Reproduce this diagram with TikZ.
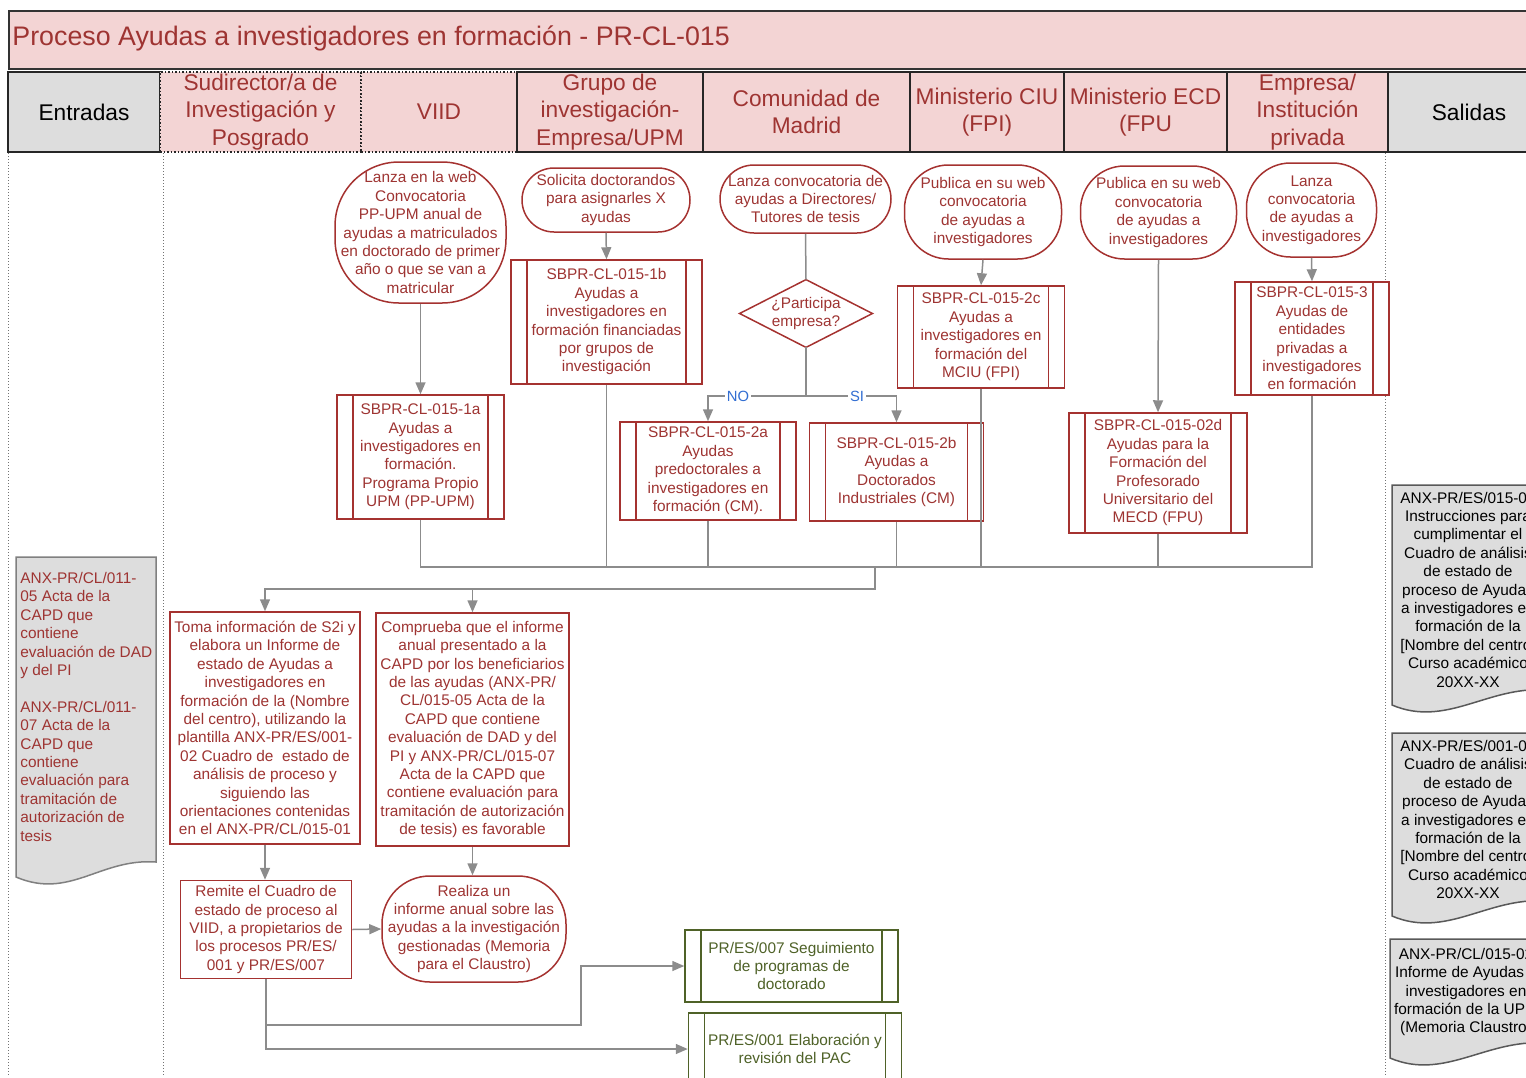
\documentclass[tikz,border=0pt]{standalone}
\usepackage{fontspec}
\setmainfont{Liberation Sans}
\usetikzlibrary{arrows.meta,calc}
\definecolor{redtxt}{RGB}{158,52,50}
\definecolor{redln}{RGB}{165,50,48}
\definecolor{pinkbg}{RGB}{243,212,212}
\definecolor{graybg}{RGB}{221,221,221}
\definecolor{conncol}{RGB}{140,140,140}
\definecolor{greenln}{RGB}{79,98,40}
\definecolor{bluetxt}{RGB}{50,110,210}
\newcommand\fsnode{\fontsize{7.7}{9.2}\selectfont}
\newcommand\fshead{\fontsize{11.35}{13.75}\selectfont}
\newcommand\fstitle{\fontsize{13.4}{16}\selectfont}
\tikzset{
  sz/.style 2 args={minimum width=#1*0.5pt, minimum height=#2*0.5pt},
  base/.style={inner sep=0pt, align=center, font=\fsnode, text=redtxt},
  procbox/.style={base, draw=#1, line width=0.75pt, fill=white,
    path picture={\draw[#1, line width=0.75pt]
      ([xshift=8pt]path picture bounding box.north west) -- ([xshift=8pt]path picture bounding box.south west)
      ([xshift=-8pt]path picture bounding box.north east) -- ([xshift=-8pt]path picture bounding box.south east);}},
  procbox/.default=redln,
  greenbox/.style={procbox=greenln, text=greenln},
  term/.style={base, draw=redln, line width=0.75pt, fill=white, rounded corners=#1},
  term/.default=22pt,
  actbox/.style={base, draw=redln, line width=0.75pt, fill=white},
  headcell/.style={draw=black!85, line width=0.75pt, fill=pinkbg, text=redtxt, font=\fshead, align=center, inner sep=0pt},
  conn/.style={draw=conncol, line width=0.75pt},
  arr/.style={conn, -{Triangle[width=5pt,length=6pt]}},
  lblbl/.style={inner sep=1pt, fill=white, text=bluetxt, font=\fontsize{7.4}{9}\selectfont},
  laneline/.style={draw=black!55, line width=0.5pt, densely dotted},
  docin/.style={draw=black!50, line width=0.75pt, fill=graybg},
  docout/.style={draw=black!65, line width=0.75pt, fill=graybg},
}
\begin{document}
\begin{tikzpicture}[x=0.5pt,y=-0.5pt]
\useasboundingbox (0,0) rectangle (1526,1077);
% title
\node[draw=black!80, line width=0.75pt, fill=pinkbg, sz={1540}{58}, anchor=north west, inner sep=0pt] (title) at (8,10) {};
\node[anchor=west, inner sep=0pt, font=\fstitle, text=redtxt] (titletxt) at (12,38) {Proceso Ayudas a investigadores en formación - PR-CL-015};
% header
\node[headcell, fill=graybg, text=black, sz={152}{80}] (hEntr) at (84,112) {Entradas};
\node[headcell, densely dotted, line width=0.6pt, sz={201}{80}] (hSub) at (260.5,112) {Sudirector/a de\\Investigación y\\Posgrado};
\node[headcell, densely dotted, line width=0.6pt, sz={156}{80}] (hVIID) at (439,112) {VIID};
\node[headcell, sz={186}{80}] (hGrupo) at (610,112) {Grupo de\\investigación-\\Empresa/UPM};
\node[headcell, sz={207}{80}] (hCM) at (806.5,112) {Comunidad de\\Madrid};
\node[headcell, sz={154}{80}] (hCIU) at (987,112) {Ministerio CIU\\(FPI)};
\node[headcell, sz={163}{80}] (hECD) at (1145.5,112) {Ministerio ECD\\(FPU};
\node[headcell, sz={161}{80}] (hEmp) at (1307.5,112) {Empresa/\\Institución\\privada};
\node[headcell, fill=graybg, text=black, sz={162}{80}] (hSal) at (1469,112) {Salidas};
% lane lines
\draw[laneline] (8,153) -- (8,1077);
\draw[laneline] (163,153) -- (163,1077);
\draw[laneline] (1385,153) -- (1385,1077);
% entradas document
\draw[docin] (16,557) -- (156,557) -- (156,862) .. controls (100,858) and (70,900) .. (16,877) -- cycle;
\node[base, align=left, anchor=north west] (inA) at (20,572) {ANX-PR/CL/011-\\05 Acta de la\\CAPD que\\contiene\\evaluación de DAD\\y del PI\\[9.2pt]ANX-PR/CL/011-\\07 Acta de la\\CAPD que\\contiene\\evaluación para\\tramitación de\\autorización de\\tesis};
% salidas documents
\draw[docout] (1392,485) -- (1545,485) -- (1545,690) .. controls (1488,686) and (1446,728) .. (1392,705) -- cycle;
\node[base, text=black] (out1) at (1468,589.5) {ANX-PR/ES/015-01\\Instrucciones para\\cumplimentar el\\Cuadro de análisis\\de estado de\\proceso de Ayudas\\a investigadores en\\formación de la\\{[}Nombre del centro{]}\\Curso académico\\20XX-XX};
\draw[docout] (1392,733) -- (1545,733) -- (1545,901) .. controls (1488,897) and (1446,939) .. (1392,916) -- cycle;
\node[base, text=black] (out2) at (1468,819.5) {ANX-PR/ES/001-02\\Cuadro de análisis\\de estado de\\proceso de Ayudas\\a investigadores en\\formación de la\\{[}Nombre del centro{]}\\Curso académico\\20XX-XX};
\draw[docout] (1390,939) -- (1545,939) -- (1545,1043) .. controls (1486,1039) and (1444,1081) .. (1390,1058) -- cycle;
\node[base, text=black] (out3) at (1466,992) {ANX-PR/CL/015-02\\Informe de Ayudas a\\investigadores en\\formación de la UPM\\(Memoria Claustro)};
% nodes
\node[term=32pt, sz={171}{141}] (n1) at (420.5,232.5) {Lanza en la web\\Convocatoria\\PP-UPM anual de\\ayudas a matriculados\\en doctorado de primer\\año o que se van a\\matricular};
\node[procbox, sz={167}{124}] (n1a) at (420.5,457) {SBPR-CL-015-1a\\Ayudas a\\investigadores en\\formación.\\Programa Propio\\UPM (PP-UPM)};
\node[term=16pt, sz={168}{64}] (n2) at (606,200) {Solicita doctorandos\\para asignarles X\\ayudas};
\node[procbox, sz={191}{124}] (n1b) at (606.5,322) {SBPR-CL-015-1b\\Ayudas a\\investigadores en\\formación financiadas\\por grupos de\\investigación};
\node[term=17pt, sz={171}{68}] (n3) at (805.5,199) {Lanza convocatoria de\\ayudas a Directores/\\Tutores de tesis};
\node[base, sz={132}{67}] (dia) at (806,313.5) {¿Participa\\empresa?};
\draw[draw=redln, line width=0.75pt] (dia.north) -- (dia.east) -- (dia.south) -- (dia.west) -- cycle;
\node[procbox, sz={176}{98}] (n2a) at (708,471) {SBPR-CL-015-2a\\Ayudas\\predoctorales a\\investigadores en\\formación (CM).};
\node[procbox, sz={174}{98}] (n2b) at (896.5,472) {SBPR-CL-015-2b\\Ayudas a\\Doctorados\\Industriales (CM)};
\node[term, sz={157}{94}] (n4) at (983,212) {Publica en su web\\convocatoria\\de ayudas a\\investigadores};
\node[procbox, sz={167}{102}] (n2c) at (981,337) {SBPR-CL-015-2c\\Ayudas a\\investigadores en\\formación del\\MCIU (FPI)};
\node[term, sz={156}{93}] (n5) at (1158.5,212.5) {Publica en su web\\convocatoria\\de ayudas a\\investigadores};
\node[procbox, sz={178}{120}] (n2d) at (1158,473) {SBPR-CL-015-02d\\Ayudas para la\\Formación del\\Profesorado\\Universitario del\\MECD (FPU)};
\node[term, sz={130}{94}] (n6) at (1311.5,210) {Lanza\\convocatoria\\de ayudas a\\investigadores};
\node[procbox, sz={154}{113}] (n3p) at (1312,338.5) {SBPR-CL-015-3\\Ayudas de\\entidades\\privadas a\\investigadores\\en formación};
\node[actbox, sz={190}{232}] (toma) at (265,728) {Toma información de S2i y\\elabora un Informe de\\estado de Ayudas a\\investigadores en\\formación de la (Nombre\\del centro), utilizando la\\plantilla ANX-PR/ES/001-\\02 Cuadro de\ \ estado de\\análisis de proceso y\\siguiendo las\\orientaciones contenidas\\en el ANX-PR/CL/015-01};
\node[actbox, sz={193}{233}] (comp) at (472.5,729.5) {Comprueba que el informe\\anual presentado a la\\CAPD por los beneficiarios\\de las ayudas (ANX-PR/\\CL/015-05 Acta de la\\CAPD que contiene\\evaluación de DAD y del\\PI y ANX-PR/CL/015-07\\Acta de la CAPD que\\contiene evaluación para\\tramitación de autorización\\de tesis) es favorable};
\node[actbox, sz={171}{98}] (remite) at (266,929.5) {Remite el Cuadro de\\estado de proceso al\\VIID, a propietarios de\\los procesos PR/ES/\\001 y PR/ES/007};
\node[term=24pt, sz={184}{106}] (realiza) at (474,929) {Realiza un\\informe anual sobre las\\ayudas a la investigación\\gestionadas (Memoria\\para el Claustro)};
\node[greenbox, sz={213}{72}] (g1) at (791.5,966) {PR/ES/007 Seguimiento\\de programas de\\doctorado};
\node[greenbox, sz={213}{72}] (g2) at (795,1049) {PR/ES/001 Elaboración y\\revisión del PAC};
% connectors
\draw[arr] (n1.south) -- (n1a.north);
\draw[arr] (n2.south) -- (n1b.north);
\draw[conn] (n3.south) -- (dia.north);
\coordinate (sp) at (806,396);
\draw[arr] (dia.south) -- (sp) -| (n2a.north);
\draw[arr] (sp) -| (n2b.north);
\node[lblbl] (lno) at (738,396) {NO};
\node[lblbl] (lsi) at (857,396) {SI};
\draw[arr] (n4.south) -- (n2c.north);
\draw[arr] (n5.south) -- (n2d.north);
\draw[arr] (n6.south) -- (n3p.north);
\coordinate (mR) at (1312,567);
\coordinate (mJ) at (875,567);
\coordinate (bL) at (265,589);
\draw[conn] (n1a.south) |- (mR) -- (n3p.south);
\draw[conn] (n1b.south) -- (n1b.south |- mR);
\draw[conn] (n2a.south) -- (n2a.south |- mR);
\draw[conn] (n2b.south) -- (n2b.south |- mR);
\draw[conn] (n2c.south) -- (n2c.south |- mR);
\draw[conn] (n2d.south) -- (n2d.south |- mR);
\draw[arr] (mJ) |- (bL) -- (toma.north);
\draw[arr] (comp.north |- bL) -- (comp.north);
\draw[arr] (toma.south) -- (toma.south |- remite.north);
\draw[arr] (comp.south) -- (comp.south |- realiza.north);
\draw[arr] (remite.east) -- (realiza.west);
\coordinate (rA) at (581,1025);
\draw[arr] (remite.south) |- (rA) |- (g1.west);
\draw[arr] (remite.south) |- (g2.west);
\end{tikzpicture}
\end{document}
